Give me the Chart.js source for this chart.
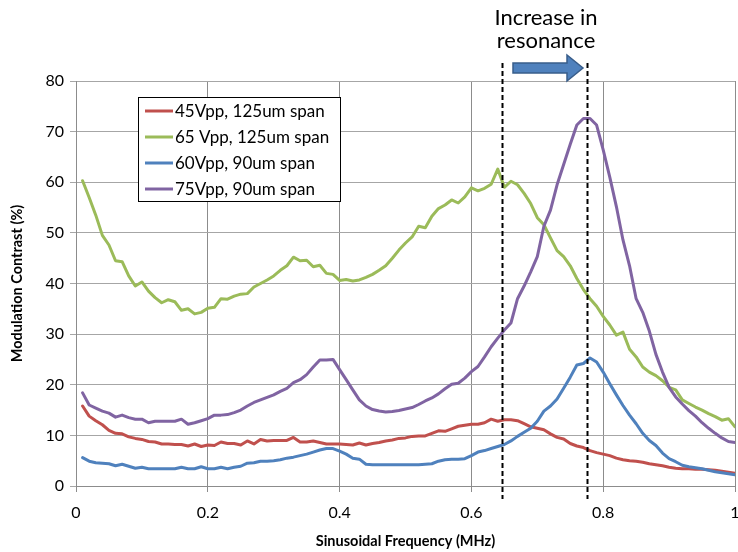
<!DOCTYPE html>
<html>
<head>
<meta charset="utf-8">
<script src="https://cdn.jsdelivr.net/npm/chart.js@4/dist/chart.umd.min.js"></script>
<style>
  html, body { margin: 0; padding: 0; background: #fff; }
  #wrap { width: 738px; height: 552px; position: relative; }
</style>
</head>
<body>
<div id="wrap"><canvas id="c" width="738" height="552"></canvas></div>
<script>
// ---- data ----
const freq = [0.01,0.02,0.03,0.04,0.05,0.06,0.07,0.08,0.09,0.10,
  0.11,0.12,0.13,0.14,0.15,0.16,0.17,0.18,0.19,0.20,
  0.21,0.22,0.23,0.24,0.25,0.26,0.27,0.28,0.29,0.30,
  0.31,0.32,0.33,0.34,0.35,0.36,0.37,0.38,0.39,0.40,
  0.41,0.42,0.43,0.44,0.45,0.46,0.47,0.48,0.49,0.50,
  0.51,0.52,0.53,0.54,0.55,0.56,0.57,0.58,0.59,0.60,
  0.61,0.62,0.63,0.64,0.65,0.66,0.67,0.68,0.69,0.70,
  0.71,0.72,0.73,0.74,0.75,0.76,0.77,0.78,0.79,0.80,
  0.81,0.82,0.83,0.84,0.85,0.86,0.87,0.88,0.89,0.90,
  0.91,0.92,0.93,0.94,0.95,0.96,0.97,0.98,0.99,1.00];

const red45 = [15.8,13.8,12.9,12.1,11.0,10.4,10.3,9.7,9.4,9.2,
  8.8,8.7,8.3,8.3,8.2,8.2,7.9,8.3,7.8,8.1,
  8.0,8.7,8.4,8.4,8.1,8.9,8.3,9.2,8.9,9.0,
  9.0,9.0,9.6,8.7,8.7,8.9,8.6,8.3,8.3,8.3,
  8.2,8.1,8.5,8.1,8.4,8.6,8.9,9.1,9.4,9.5,
  9.8,9.9,9.9,10.4,10.9,10.8,11.3,11.8,12.0,12.2,
  12.2,12.5,13.2,12.8,13.1,13.1,12.9,12.3,11.7,11.4,
  11.1,10.3,9.6,9.3,8.4,7.9,7.6,7.0,6.6,6.3,
  6.0,5.5,5.2,5.0,4.9,4.7,4.4,4.2,4.0,3.7,
  3.5,3.4,3.4,3.3,3.3,3.2,3.1,2.9,2.7,2.5];

const green65 = [60.3,57.0,53.5,49.5,47.6,44.5,44.3,41.5,39.5,40.3,
  38.5,37.2,36.2,36.8,36.4,34.7,35.0,34.0,34.3,35.1,
  35.3,37.0,36.9,37.5,37.9,38.0,39.3,40.0,40.7,41.5,
  42.6,43.5,45.2,44.5,44.6,43.3,43.6,42.0,41.8,40.6,
  40.8,40.5,40.7,41.2,41.8,42.6,43.5,45.0,46.6,48.0,
  49.2,51.3,51.0,53.3,54.8,55.5,56.5,55.9,57.1,58.9,
  58.3,58.8,59.6,62.6,59.0,60.2,59.5,57.8,55.8,53.0,
  51.6,49.0,46.5,45.3,43.5,41.0,38.8,37.0,35.5,33.5,
  31.8,29.8,30.4,27.0,25.5,23.5,22.5,21.8,20.8,19.5,
  19.0,17.0,16.3,15.6,15.0,14.3,13.7,13.0,13.3,11.7];

const blue60 = [5.6,4.9,4.6,4.5,4.4,4.0,4.3,3.9,3.5,3.7,
  3.4,3.4,3.4,3.4,3.4,3.7,3.4,3.4,3.8,3.4,
  3.4,3.7,3.4,3.7,3.9,4.5,4.6,4.9,4.9,5.0,
  5.2,5.5,5.7,6.0,6.3,6.7,7.1,7.4,7.4,6.9,
  6.3,5.5,5.3,4.3,4.2,4.2,4.2,4.2,4.2,4.2,
  4.2,4.2,4.3,4.4,4.9,5.2,5.3,5.3,5.4,6.0,
  6.7,7.0,7.4,7.8,8.2,8.9,9.8,10.6,11.4,12.8,
  14.8,15.8,17.2,19.3,21.5,23.9,24.2,25.3,24.5,22.5,
  20.2,18.0,15.9,14.0,12.3,10.4,9.0,8.0,6.5,5.4,
  4.8,4.1,3.8,3.6,3.4,3.1,2.8,2.6,2.4,2.2];

const purple75 = [18.4,16.0,15.4,14.8,14.4,13.6,14.0,13.5,13.2,13.2,
  12.5,12.8,12.8,12.8,12.8,13.2,12.2,12.5,12.9,13.3,
  14.0,14.0,14.1,14.5,15.0,15.8,16.5,17.0,17.5,18.0,
  18.7,19.3,20.4,21.0,22.0,23.5,24.9,24.9,25.0,23.0,
  21.0,19.0,17.0,15.8,15.1,14.8,14.6,14.7,14.9,15.2,
  15.5,16.1,16.8,17.4,18.2,19.2,20.1,20.3,21.3,22.6,
  23.6,25.5,27.5,29.2,30.8,32.2,37.0,39.5,42.3,45.3,
  51.3,54.5,59.5,63.5,67.5,71.3,72.6,72.6,71.3,66.4,
  61.0,55.2,48.6,43.5,37.0,34.3,30.6,26.0,22.5,19.5,
  17.6,16.2,14.9,13.8,12.5,11.4,10.4,9.5,8.8,8.6];

const seriesLabels = ['45Vpp, 125um span', '65 Vpp, 125um span', '60Vpp, 90um span', '75Vpp, 90um span'];
const xTicks = [0, 0.2, 0.4, 0.6, 0.8, 1];
const yTicks = [0, 10, 20, 30, 40, 50, 60, 70, 80];
const resonanceMarkers = [0.646, 0.775];
const annotationLines = ['Increase in', 'resonance'];

// ---- chart ----
const FONT = 'Lato, "Open Sans", sans-serif';
const colors = ['#C0504D', '#9BBB59', '#4F81BD', '#8064A2'];
const allSeries = [red45, green65, blue60, purple75];
const orders = [4, 3, 2, 1];

const datasets = allSeries.map((s, i) => ({
  label: seriesLabels[i],
  data: s.map((v, k) => ({ x: freq[k], y: v })),
  borderColor: colors[i],
  backgroundColor: colors[i],
  borderWidth: 3,
  pointRadius: 0,
  tension: 0,
  fill: false,
  order: orders[i],
  borderJoinStyle: 'round',
  borderCapStyle: 'round'
}));

const overlay = {
  id: 'overlay',
  afterDatasetsDraw(chart) {
    const ctx = chart.ctx;
    const xs = chart.scales.x;
    ctx.save();
    // dashed resonance markers
    ctx.strokeStyle = '#000';
    ctx.lineWidth = 2;
    ctx.setLineDash([5, 3]);
    resonanceMarkers.forEach(v => {
      const px = Math.round(xs.getPixelForValue(v)) + 0.5;
      ctx.beginPath();
      ctx.moveTo(px, 63);
      ctx.lineTo(px, 499);
      ctx.stroke();
    });
    ctx.setLineDash([]);

    // arrow
    const x0 = 513, xh = 567, xt = 583;
    ctx.beginPath();
    ctx.moveTo(x0, 63);
    ctx.lineTo(xh, 63);
    ctx.lineTo(xh, 55);
    ctx.lineTo(xt, 68);
    ctx.lineTo(xh, 81);
    ctx.lineTo(xh, 73);
    ctx.lineTo(x0, 73);
    ctx.closePath();
    ctx.fillStyle = '#4F81BD';
    ctx.fill();
    ctx.strokeStyle = '#385D8A';
    ctx.lineWidth = 1.5;
    ctx.stroke();

    // annotation text
    ctx.fillStyle = '#000';
    ctx.font = '22px ' + FONT;
    ctx.textAlign = 'center';
    ctx.textBaseline = 'alphabetic';
    ctx.fillText(annotationLines[0], 546, 25);
    ctx.fillText(annotationLines[1], 546, 48);

    // legend box
    const lx = 138, ly = 97, lw = 202, lh = 104;
    ctx.fillStyle = '#fff';
    ctx.fillRect(lx, ly, lw, lh);
    ctx.strokeStyle = '#000';
    ctx.lineWidth = 1;
    ctx.strokeRect(lx + 0.5, ly + 0.5, lw, lh);
    ctx.font = '17px ' + FONT;
    ctx.textAlign = 'left';
    ctx.textBaseline = 'middle';
    const rowY = [111, 137, 163, 189];
    seriesLabels.forEach((lab, i) => {
      ctx.strokeStyle = colors[i];
      ctx.lineWidth = 3;
      ctx.beginPath();
      ctx.moveTo(145, rowY[i]);
      ctx.lineTo(173, rowY[i]);
      ctx.stroke();
      ctx.fillStyle = '#000';
      ctx.fillText(lab, 175, rowY[i] + 1);
    });
    ctx.restore();
  }
};

Chart.defaults.color = '#000';
Chart.defaults.font.family = FONT;

new Chart(document.getElementById('c'), {
  type: 'line',
  data: { datasets },
  options: {
    responsive: false,
    animation: false,
    layout: { padding: { top: 81, right: 3, left: 0, bottom: 0 } },
    plugins: { legend: { display: false }, tooltip: { enabled: false } },
    scales: {
      x: {
        type: 'linear',
        min: 0, max: 1,
        afterBuildTicks(scale) { scale.ticks = xTicks.map(v => ({ value: v })); },
        afterFit(scale) { scale.height = 66; scale.paddingLeft = 0; scale.paddingRight = 0; },
        grid: { color: '#8c8c8c', lineWidth: 1, tickLength: 6, drawTicks: true },
        border: { color: '#8c8c8c', width: 1 },
        ticks: { font: { size: 16 }, padding: 11, maxRotation: 0, autoSkip: false, callback: v => String(v) },
        title: { display: true, text: 'Sinusoidal Frequency (MHz)', font: { size: 14.5, weight: 'bold' }, padding: { top: 4, bottom: 2 } }
      },
      y: {
        min: 0, max: 80,
        afterBuildTicks(scale) { scale.ticks = yTicks.map(v => ({ value: v })); },
        afterFit(scale) { scale.width = 76; scale.paddingTop = 0; scale.paddingBottom = 0; },
        grid: { color: '#a6a6a6', lineWidth: 1, tickLength: 6 },
        border: { color: '#8c8c8c', width: 1 },
        ticks: { font: { size: 16 }, padding: 6 },
        title: { display: true, text: 'Modulation Contrast (%)', font: { size: 14.5, weight: 'bold' }, padding: { top: 9, bottom: 4 } }
      }
    }
  },
  plugins: [overlay]
});
</script>
</body>
</html>
